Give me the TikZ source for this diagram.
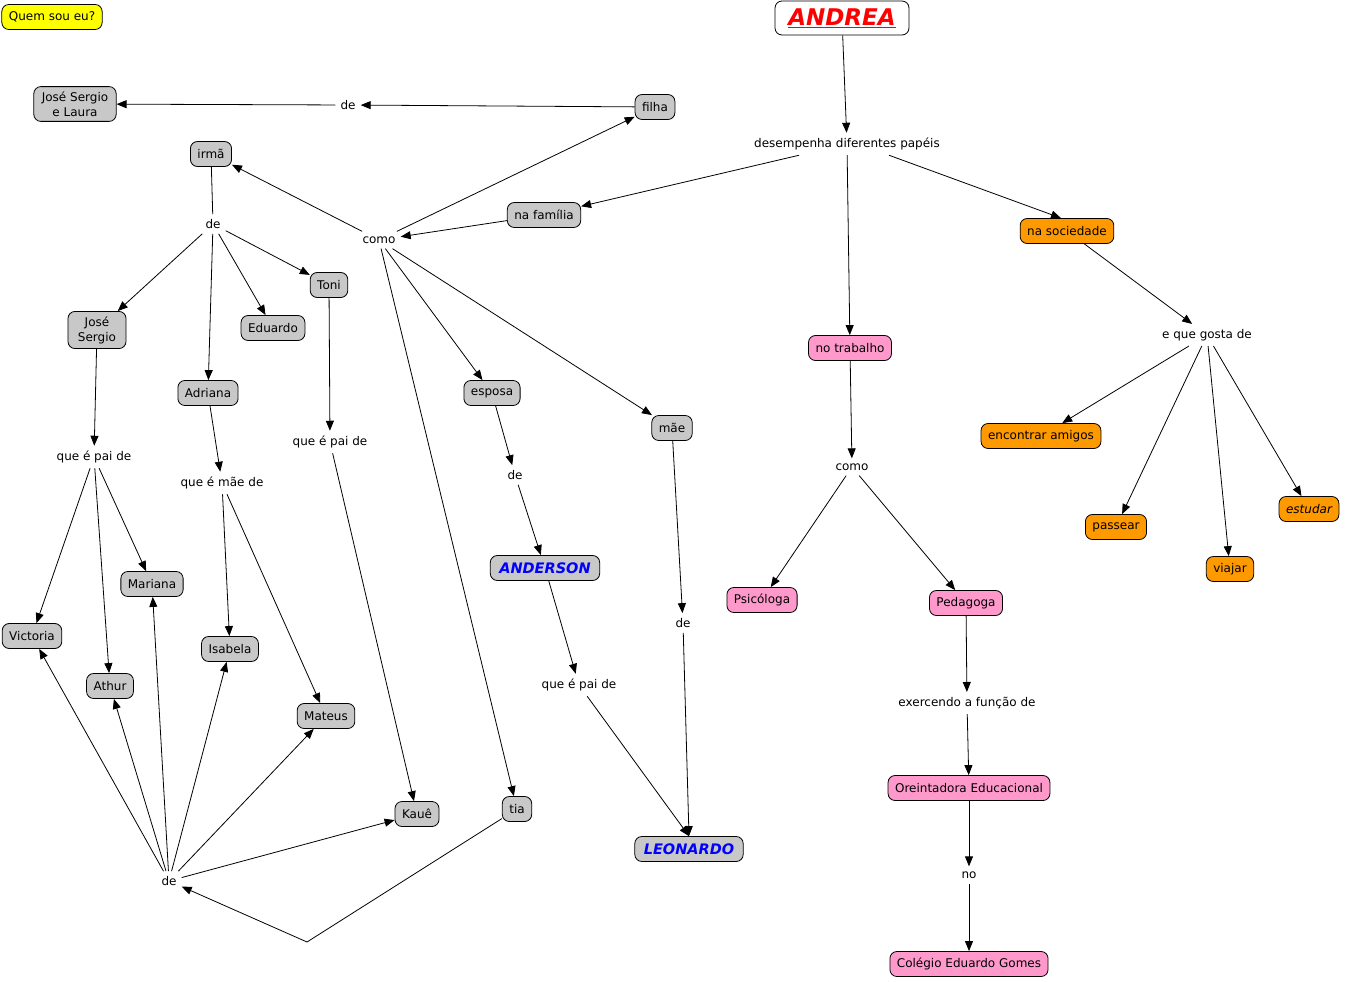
\documentclass[tikz,border=0pt]{standalone}
\usepackage{fontspec}
\setmainfont{DejaVu Sans}
\usetikzlibrary{arrows.meta}
\definecolor{cgrey}{HTML}{C8C8C8}
\definecolor{corange}{HTML}{FF9900}
\definecolor{cpink}{HTML}{FF99CC}
\definecolor{cyel}{HTML}{FFFF00}
\definecolor{cred}{HTML}{FF0000}
\definecolor{cblue}{HTML}{0000FF}
\newcommand\fs{\fontsize{12}{14.5}\selectfont}
\tikzset{
  base/.style={draw=black, rounded corners=7pt, line width=0.8pt, minimum height=25pt,
    inner xsep=7pt, inner ysep=3pt, font=\fs, align=center},
  grey/.style={base, fill=cgrey},
  orng/.style={base, fill=corange},
  pink/.style={base, fill=cpink},
  yel/.style={base, fill=cyel},
  twoline/.style={font=\fontsize{12}{15}\selectfont, inner ysep=5pt, inner xsep=8pt},
  bigname/.style={font=\fontsize{14.5}{16}\selectfont\bfseries\itshape, text=cblue, inner xsep=9pt},
  lnk/.style={font=\fs, inner sep=5pt},
  arr/.style={-{Triangle[length=10pt,width=8pt]}, line width=0.8pt},
  ln/.style={line width=0.8pt}
}
\begin{document}
\begin{tikzpicture}[x=1pt,y=-1pt]
\useasboundingbox (0,0) rectangle (1345,982);
% nodes
\node[yel] (quem) at (52,17) {Quem sou eu?};
\node[base, fill=white, minimum width=134pt, minimum height=34pt,
  font=\fontsize{23}{26}\selectfont\bfseries\itshape, text=cred] (andrea) at (842,18) {\underline{ANDREA}};
\node[lnk] (desemp) at (847,144) {desempenha diferentes papéis};
\node[grey] (familia) at (544,215) {na família};
\node[orng] (soc) at (1067,231) {na sociedade};
\node[pink] (trab) at (850,348) {no trabalho};
\node[lnk] (gosta) at (1207,335) {e que gosta de};
\node[orng] (amigos) at (1041,436) {encontrar amigos};
\node[orng] (passear) at (1116,527) {passear};
\node[orng] (viajar) at (1230,569) {viajar};
\node[orng] (estudar) at (1309,509) {\itshape estudar};
\node[lnk] (como2) at (852,467) {como};
\node[pink] (psico) at (762,600) {Psicóloga};
\node[pink] (peda) at (966,603) {Pedagoga};
\node[lnk] (exerc) at (967,703) {exercendo a função de};
\node[pink] (orient) at (969,788) {Oreintadora Educacional};
\node[lnk] (no) at (969,875) {no};
\node[pink] (colegio) at (969,964) {Colégio Eduardo Gomes};
\node[grey] (filha) at (655,107) {filha};
\node[lnk] (de1) at (348,105) {de};
\node[grey, twoline] (jsl) at (75,104) {José Sergio\\e Laura};
\node[lnk] (como1) at (379,240) {como};
\node[grey] (irma) at (211,154) {irmã};
\node[lnk] (de2) at (213,224) {de};
\node[grey] (toni) at (329,285) {Toni};
\node[grey] (eduardo) at (273,328) {Eduardo};
\node[grey, twoline, inner xsep=10pt] (js) at (97,330) {José\\Sergio};
\node[grey] (adriana) at (208,393) {Adriana};
\node[grey] (esposa) at (492,393) {esposa};
\node[grey] (mae) at (672,428) {mãe};
\node[lnk] (pai1) at (330,442) {que é pai de};
\node[lnk] (pai2) at (94,457) {que é pai de};
\node[lnk] (maede) at (222,483) {que é mãe de};
\node[lnk] (de3) at (515,475) {de};
\node[grey, bigname] (anderson) at (545,568) {ANDERSON};
\node[grey] (mariana) at (152,584) {Mariana};
\node[grey] (victoria) at (32,636) {Victoria};
\node[grey] (isabela) at (230,649) {Isabela};
\node[grey] (athur) at (110,686) {Athur};
\node[grey] (mateus) at (326,716) {Mateus};
\node[lnk] (pai3) at (579,685) {que é pai de};
\node[lnk] (de4) at (683,623) {de};
\node[grey] (kaue) at (417,814) {Kauê};
\node[grey] (tia) at (517,809) {tia};
\node[grey, bigname] (leonardo) at (689,849) {LEONARDO};
\node[lnk] (de5) at (169,881) {de};
\coordinate (bend) at (307,942);
% connectors: right side
\draw[arr] (andrea) -- (desemp);
\draw[arr] (desemp) -- (familia);
\draw[arr] ([xshift=42pt]desemp.south) -- ([xshift=-6pt]soc.north);
\draw[arr] (desemp) -- (trab);
\draw[arr] (soc) -- (gosta);
\draw[arr] (gosta) -- (amigos);
\draw[arr] (gosta) -- (passear);
\draw[arr] (gosta) -- (viajar);
\draw[arr] (gosta) -- (estudar);
\draw[arr] (trab) -- (como2);
\draw[arr] (como2) -- (psico);
\draw[arr] (como2) -- (peda);
\draw[arr] (peda) -- (exerc);
\draw[arr] (exerc) -- (orient);
\draw[arr] (orient) -- (no);
\draw[arr] (no) -- (colegio);
% family
\draw[arr] (familia) -- (como1);
\draw[arr] (como1) -- (filha);
\draw[arr] (filha) -- (de1);
\draw[arr] (de1) -- (jsl);
\draw[arr] (como1) -- (irma);
\draw[ln] (irma) -- (de2);
\draw[arr] (de2) -- (js);
\draw[arr] (de2) -- (adriana);
\draw[arr] (de2) -- (eduardo);
\draw[arr] (de2) -- (toni);
\draw[arr] (toni) -- (pai1);
\draw[arr] (pai1) -- (kaue);
\draw[arr] (como1) -- (esposa);
\draw[arr] (como1) -- (mae);
\draw[arr] (como1) -- (tia);
\draw[arr] (esposa) -- (de3);
\draw[arr] (de3) -- (anderson);
\draw[arr] (anderson) -- (pai3);
\draw[arr] (pai3) -- (leonardo.north);
\draw[arr] (mae) -- (de4);
\draw[arr] (de4) -- (leonardo.north);
\draw[arr] (js) -- (pai2);
\draw[arr] (pai2) -- (victoria);
\draw[arr] (pai2) -- (athur);
\draw[arr] (pai2) -- (mariana);
\draw[arr] (adriana) -- (maede);
\draw[arr] (maede) -- (isabela);
\draw[arr] (maede) -- (mateus);
\draw[arr] (de5) -- (victoria);
\draw[arr] (de5) -- (athur);
\draw[arr] (de5) -- (mariana);
\draw[arr] (de5) -- (isabela);
\draw[arr] (de5) -- (mateus);
\draw[arr] (de5) -- (kaue);
\draw[arr] (tia) -- (bend) -- (de5);
\end{tikzpicture}
\end{document}
